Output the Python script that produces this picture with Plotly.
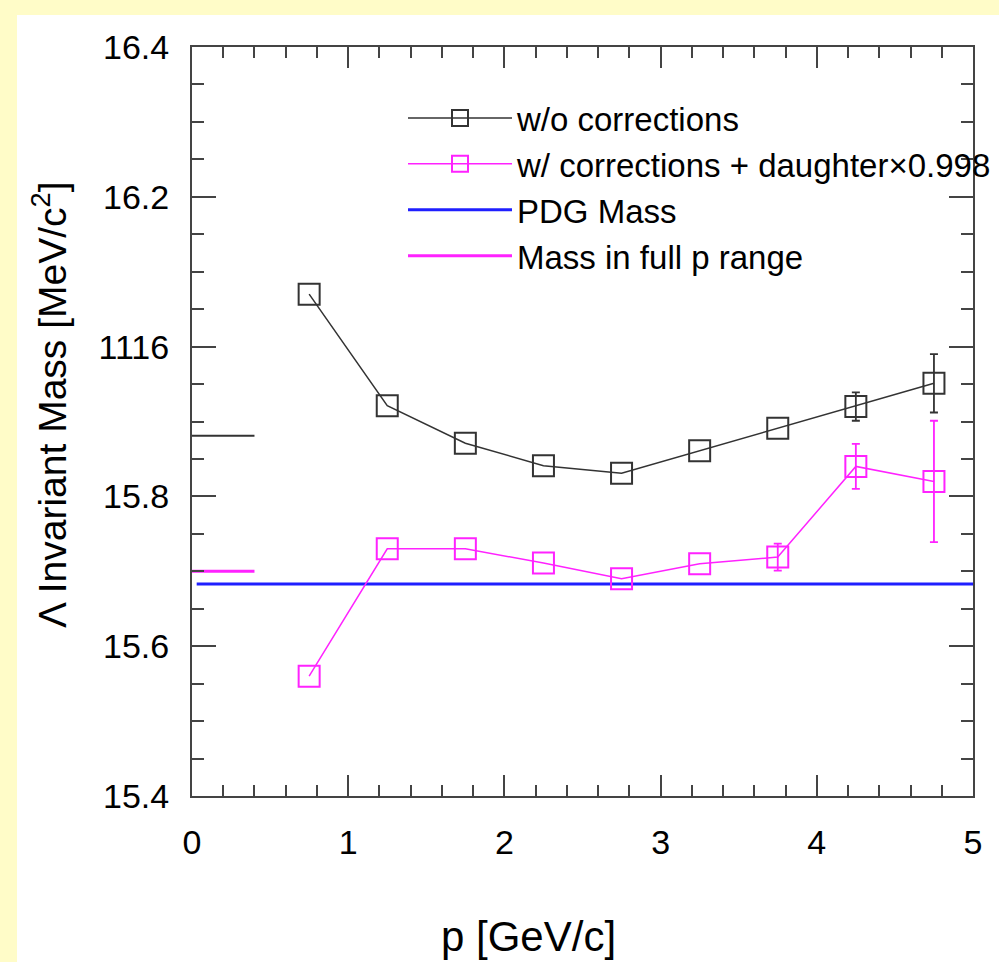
import plotly.graph_objects as go

# ---- data ----
p = [0.75, 1.25, 1.75, 2.25, 2.75, 3.25, 3.75, 4.25, 4.75]
mass_raw = [1116.070, 1115.921, 1115.871, 1115.841, 1115.831, 1115.861, 1115.891, 1115.920, 1115.951]
err_raw = [None, None, None, None, None, None, None, 0.019, 0.039]
mass_corr = [1115.560, 1115.730, 1115.730, 1115.711, 1115.690, 1115.710, 1115.719, 1115.840, 1115.820]
err_corr = [None, None, None, None, None, None, 0.018, 0.030, 0.081]
pdg_mass = 1115.683
pdg_p = [0.03, 5.0]
full_raw = 1115.881
full_corr = 1115.700
full_p = [0.0, 0.4]
ytickvals = [1115.4, 1115.6, 1115.8, 1116.0, 1116.2, 1116.4]
yticktext = ["15.4", "15.6", "15.8", "1116", "16.2", "16.4"]

W, H = 999, 962
L, R, T, B = 192, 26, 47, 166
pw, ph = W - L - R, H - T - B

BLACK = "#333333"
MAG = "#FF22FF"
BLUE = "#1F1FFF"
FONT = "Liberation Sans, Arial, sans-serif"


def px_x(v):
    return (v - L) / pw


def px_y(v):
    return (T + ph - v) / ph


def with_err(xs, ys, es):
    idx = [i for i, e in enumerate(es) if e is not None]
    return [xs[i] for i in idx], [ys[i] for i in idx], [es[i] for i in idx]


fig = go.Figure()

fig.add_trace(go.Scatter(
    x=pdg_p, y=[pdg_mass] * len(pdg_p), mode="lines",
    line=dict(color=BLUE, width=3), name="PDG Mass", legendrank=3))
fig.add_trace(go.Scatter(
    x=full_p, y=[full_corr] * len(full_p), mode="lines",
    line=dict(color=MAG, width=3), name="Mass in full p range", legendrank=4))
fig.add_trace(go.Scatter(
    x=full_p, y=[full_raw] * len(full_p), mode="lines",
    line=dict(color=BLACK, width=2), showlegend=False))

for ys, es, col, name, rank in [(mass_raw, err_raw, BLACK, "w/o corrections", 1),
                                (mass_corr, err_corr, MAG, "w/ corrections + daughter\u00d70.998", 2)]:
    ex, ey, ee = with_err(p, ys, es)
    fig.add_trace(go.Scatter(
        x=ex, y=ey, mode="markers", showlegend=False, hoverinfo="skip",
        marker=dict(size=1, opacity=0),
        error_y=dict(type="data", array=ee, color=col, thickness=1.8, width=4)))
    fig.add_trace(go.Scatter(
        x=p, y=ys, mode="lines+markers", name=name,
        line=dict(color=col, width=1.5),
        marker=dict(symbol="square-open", size=21, color=col, line=dict(width=2)),
        legendrank=rank))

# white panel on the yellow page
fig.add_shape(type="rect", xref="paper", yref="paper", layer="below",
              x0=px_x(17), x1=px_x(W), y0=px_y(H), y1=px_y(15),
              fillcolor="white", line=dict(width=0))

axis_common = dict(showline=True, mirror="allticks", linecolor="#444444", linewidth=2,
                   ticks="inside", tickcolor="#444444", tickwidth=1.5,
                   showgrid=False, zeroline=False,
                   tickfont=dict(family=FONT, size=34, color="black"))

fig.update_xaxes(range=[0, 5], tickvals=[0, 1, 2, 3, 4, 5], ticklen=21,
                 ticklabelstandoff=15,
                 minor=dict(dtick=0.2, ticklen=11, ticks="inside", tickcolor="#444444", tickwidth=1.5),
                 **axis_common)
fig.update_yaxes(range=[1115.4, 1116.4], tickvals=ytickvals, ticktext=yticktext, ticklen=24,
                 ticklabelstandoff=14,
                 minor=dict(dtick=0.05, ticklen=12, ticks="inside", tickcolor="#444444", tickwidth=1.5),
                 **axis_common)

fig.add_annotation(text="p [GeV/c]", xref="paper", yref="paper",
                   x=px_x(528), y=px_y(936), xanchor="center", yanchor="middle",
                   showarrow=False, font=dict(family=FONT, size=42, color="black"))
fig.add_annotation(text="\u039b Invariant Mass [MeV/c<sup>2</sup>]", xref="paper", yref="paper",
                   x=px_x(50), y=px_y(405), xanchor="center", yanchor="middle", textangle=-90,
                   showarrow=False, font=dict(family=FONT, size=39, color="black"))

fig.update_layout(
    width=W, height=H,
    margin=dict(l=L, r=R, t=T, b=B, autoexpand=False),
    paper_bgcolor="#FFFCC8", plot_bgcolor="white",
    font=dict(family=FONT, color="black"),
    legend=dict(x=px_x(403), y=px_y(90), xanchor="left", yanchor="top",
                bgcolor="rgba(0,0,0,0)", borderwidth=0,
                font=dict(family=FONT, size=33, color="black"),
                itemwidth=104, tracegroupgap=0),
)

fig.write_html("out.html")
